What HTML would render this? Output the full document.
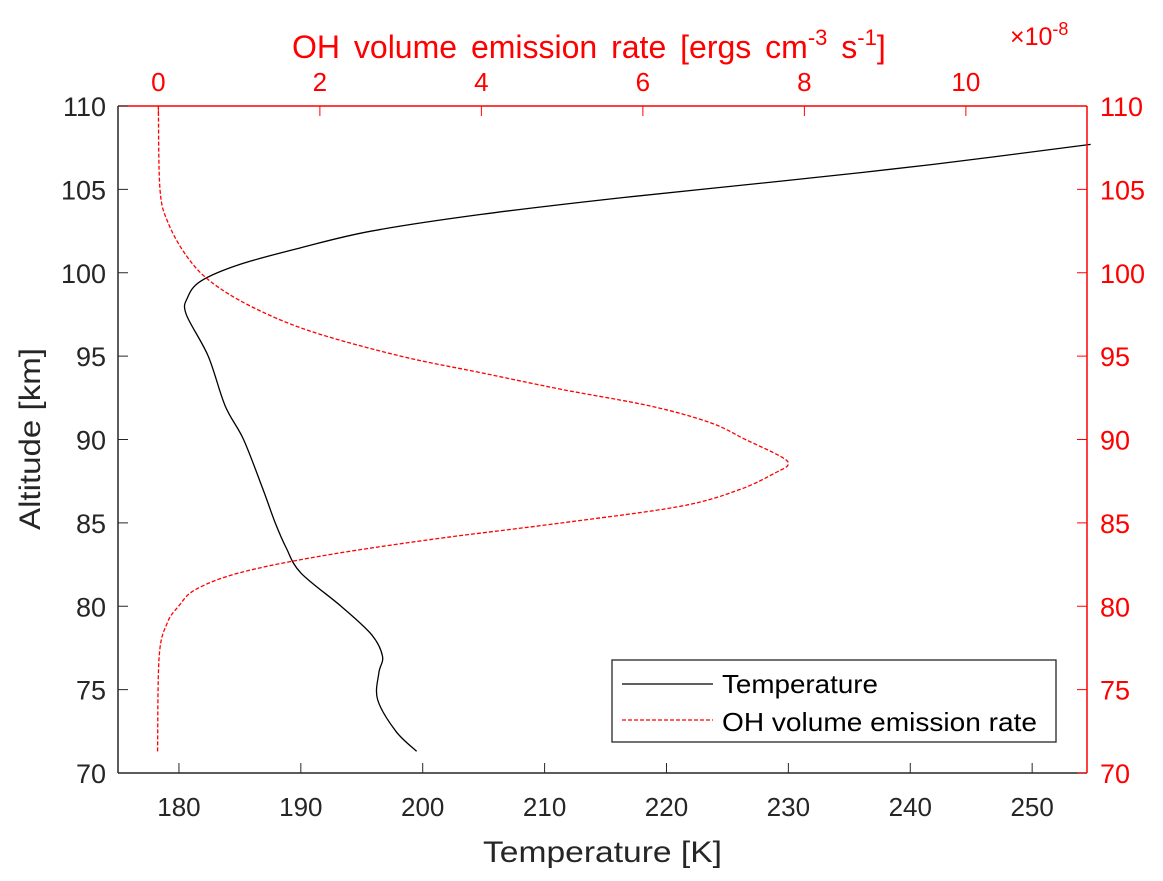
<!DOCTYPE html>
<html><head><meta charset="utf-8"><style>
body{margin:0;background:#fff;}
svg{display:block;font-family:"Liberation Sans",sans-serif;}
</style></head><body>
<svg id="chart" width="1163" height="881"></svg>
<script>
const tempAlt=[71.3,72.5,74.4,76,77,78.3,80,82,83.5,85,87,90,92,95,97.5,98.5,99.5,100.5,101.5,102.5,103.5,104.5,105.5,106.5,107.7];
const tempVals=[199.5,197.8,196.3,196.4,196.7,195.8,193.3,190,188.8,187.9,186.9,185.3,183.8,182.4,180.6,180.7,181.8,185,190,195.8,204.8,216.3,229.5,241.9,254.8];
const ohAlt=[71.3,77,79,80,81,82,83,84,85,86,87,88,88.5,89,90,91,92,93,94,95,96.5,98,99.5,101,103,105,110];
const ohVals=[-0.01,0.01,0.11,0.25,0.46,1.0,2.0,3.37,5.0,6.47,7.2,7.64,7.8,7.7,7.27,6.84,6.1,5.0,4.0,3.0,1.88,1.14,0.64,0.35,0.12,0.02,0];
const xTicks=[180,190,200,210,220,230,240,250];
const topTicks=[0,2,4,6,8,10];
const yTicks=[70,75,80,85,90,95,100,105,110];

const L=118,R=1087,T=106,B=773;
const xS=v=>L+(v-175)/(254.5-175)*(R-L);
const tS=v=>L+(v+0.5)/12*(R-L);
const yS=v=>B-(v-70)/40*(B-T);
const svg=document.getElementById('chart');
const NS='http://www.w3.org/2000/svg';
function mk(tag,attrs,txt){const e=document.createElementNS(NS,tag);for(const k in attrs)e.setAttribute(k,attrs[k]);if(txt!==undefined)e.textContent=txt;svg.appendChild(e);return e;}
function smooth(pts){let d='M'+pts[0][0]+','+pts[0][1];
 for(let i=0;i<pts.length-1;i++){const p0=pts[Math.max(i-1,0)],p1=pts[i],p2=pts[i+1],p3=pts[Math.min(i+2,pts.length-1)];
  const c1=[p1[0]+(p2[0]-p0[0])/6,p1[1]+(p2[1]-p0[1])/6],c2=[p2[0]-(p3[0]-p1[0])/6,p2[1]-(p3[1]-p1[1])/6];
  d+=' C'+c1[0]+','+c1[1]+' '+c2[0]+','+c2[1]+' '+p2[0]+','+p2[1];}
 return d;}

let e;
e=mk('rect',{x:L,y:T,width:R-L,height:B-T,fill:'#fff'});



e=mk('path',{d:smooth(tempAlt.map((a,i)=>[xS(tempVals[i]),yS(a)])),fill:'none',stroke:'#000','stroke-width':1.3});


e=mk('path',{d:smooth(ohAlt.map((a,i)=>[tS(ohVals[i]),yS(a)])),fill:'none',stroke:'#f00','stroke-width':1.3,'stroke-dasharray':'4,2'});



e=mk('line',{x1:L,y1:B,x2:R,y2:B,stroke:'#262626','stroke-width':1.5});


e=mk('line',{x1:L,y1:T,x2:L,y2:B,stroke:'#262626','stroke-width':1.5});


e=mk('line',{x1:L,y1:T,x2:R,y2:T,stroke:'#f00','stroke-width':1.5});


e=mk('line',{x1:R,y1:T,x2:R,y2:B,stroke:'#f00','stroke-width':1.5});



xTicks.forEach(v=>{const x=xS(v);
 e=mk('line',{x1:x,y1:B,x2:x,y2:B-10,stroke:'#262626'});
 
 
 e=mk('text',{x:x,y:B+43,'text-anchor':'middle','font-size':26,fill:'#262626'},v);
 
 
});
topTicks.forEach(v=>{const x=tS(v);
 e=mk('line',{x1:x,y1:T,x2:x,y2:T+10,stroke:'#f00'});
 
 
 e=mk('text',{x:x,y:T-15,'text-anchor':'middle','font-size':26,fill:'#f00'},v);
 
 
});
yTicks.forEach(v=>{const y=yS(v);
 e=mk('line',{x1:L,y1:y,x2:L+10,y2:y,stroke:'#262626'});
 
 
 e=mk('text',{x:L-12,y:y+10,'text-anchor':'end','font-size':27,fill:'#262626'},v);
 
 
 e=mk('line',{x1:R,y1:y,x2:R-10,y2:y,stroke:'#f00'});
 
 
 e=mk('text',{x:R+13,y:y+10,'text-anchor':'start','font-size':27,fill:'#f00'},v);
 
 
});

e=mk('text',{x:483,y:862,'font-size':30,fill:'#262626',textLength:239,lengthAdjust:'spacingAndGlyphs'},'Temperature [K]');


e=mk('text',{x:0,y:0,'font-size':30,fill:'#262626',textLength:182,lengthAdjust:'spacingAndGlyphs',transform:'translate(40,530) rotate(-90)'},'Altitude [km]');


e=mk('text',{x:292,y:58,'font-size':32,fill:'#f00','word-spacing':5});
e.innerHTML='<tspan>OH  volume  emission rate [ergs cm</tspan><tspan dy="-13" font-size="22">-3</tspan><tspan dy="13"> s</tspan><tspan dy="-13" font-size="22">-1</tspan><tspan dy="13">]</tspan>';


e=mk('text',{x:1010,y:45,'font-size':25,fill:'#f00'});
e.innerHTML='×10<tspan dy="-10" font-size="18">-8</tspan>';



e=mk('rect',{x:612,y:660,width:444,height:82,fill:'#fff',stroke:'#262626','stroke-width':1.3});


e=mk('line',{x1:622,y1:684,x2:713,y2:684,stroke:'#000','stroke-width':1.3});


e=mk('text',{x:722,y:693,'font-size':26,fill:'#000',textLength:156,lengthAdjust:'spacingAndGlyphs'},'Temperature');


e=mk('line',{x1:622,y1:720,x2:713,y2:720,stroke:'#f00','stroke-width':1.3,'stroke-dasharray':'4,2'});


e=mk('text',{x:722,y:731,'font-size':26,fill:'#000',textLength:315,lengthAdjust:'spacingAndGlyphs'},'OH volume emission rate');


</script>
</body></html>
